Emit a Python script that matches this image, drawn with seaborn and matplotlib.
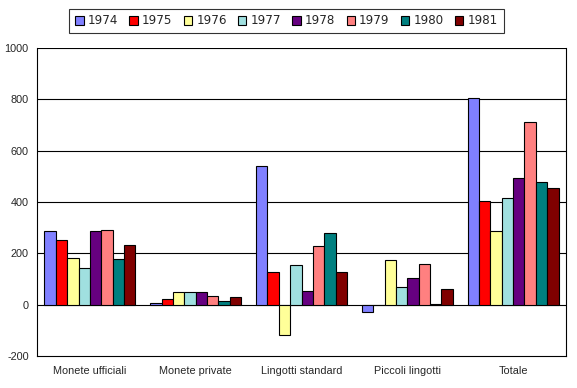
import matplotlib
matplotlib.use("Agg")
import matplotlib.pyplot as plt
import seaborn as sns
import pandas as pd
import numpy as np

categories = ["Monete ufficiali", "Monete private", "Lingotti standard", "Piccoli lingotti", "Totale"]
years = ["1974", "1975", "1976", "1977", "1978", "1979", "1980", "1981"]
v1974 = [286, 8, 539, -28, 805]
v1975 = [252, 23, 127, 0, 402]
v1976 = [182, 50, -118, 174, 288]
v1977 = [143, 50, 155, 69, 417]
v1978 = [286, 50, 53, 104, 494]
v1979 = [291, 35, 229, 160, 712]
v1980 = [178, 15, 279, 3, 478]
v1981 = [233, 31, 127, 61, 455]
colors = ["#8080FF", "#FF0000", "#FFFF99", "#A0E0E0", "#660080", "#FF8080", "#008080", "#800000"]
yticks = [-200, 0, 200, 400, 600, 800, 1000]

series = [v1974, v1975, v1976, v1977, v1978, v1979, v1980, v1981]
rows = []
for y, vals in zip(years, series):
    for c, v in zip(categories, vals):
        rows.append({"cat": c, "year": y, "val": v})
df = pd.DataFrame(rows)

sns.set_style("white")
plt.rcParams['font.family'] = ['Liberation Sans', 'DejaVu Sans']

fig = plt.figure(figsize=(5.77, 3.88), dpi=100)
ax = fig.add_axes([37/577, 1-356/388, (566-37)/577, (356-48)/388])
sns.barplot(data=df, x="cat", y="val", hue="year", order=categories, hue_order=years,
            palette=colors, edgecolor="black", linewidth=0.8, width=0.86, saturation=1,
            ax=ax, legend=True, zorder=3)

ax.set_ylim(-200, 1000)
ax.set_yticks(yticks)
ax.set_yticklabels([str(t) for t in yticks], fontsize=7.8)
ax.set_xlim(-0.5, len(categories) - 0.5)
ax.set_xticks(np.arange(len(categories) + 1) - 0.5)
ax.set_xticklabels([])
ax.set_xticks(np.arange(len(categories)), minor=True)
ax.set_xticklabels(categories, minor=True, fontsize=7.8)
ax.tick_params(axis="x", which="minor", length=0, pad=7)
ax.tick_params(axis="x", which="major", length=4, width=0.8, direction="out", color="black")
ax.tick_params(axis="y", length=4, width=0.8, direction="out", color="black", pad=2)
ax.set_xlabel("")
ax.set_ylabel("")
for yv in yticks[1:]:
    ax.axhline(yv, color="black", linewidth=0.8, zorder=1)
for s in ["left", "bottom", "right"]:
    ax.spines[s].set_visible(True)
    ax.spines[s].set_color("black")
    ax.spines[s].set_linewidth(0.8)
ax.spines["top"].set_visible(False)

handles, labels = ax.get_legend_handles_labels()
ax.legend_.remove()
leg = fig.legend(handles, labels, loc="center", bbox_to_anchor=(286.5/577, 1-21/388), ncol=8,
                 frameon=True, prop={"family": "DejaVu Sans", "size": 8.6},
                 handlelength=0.7, handleheight=0.7,
                 handletextpad=0.35, columnspacing=0.95, borderpad=0.5, fancybox=False)
leg.get_frame().set_edgecolor("black")
leg.get_frame().set_linewidth(0.8)

fig.savefig("out.png", dpi=100)
